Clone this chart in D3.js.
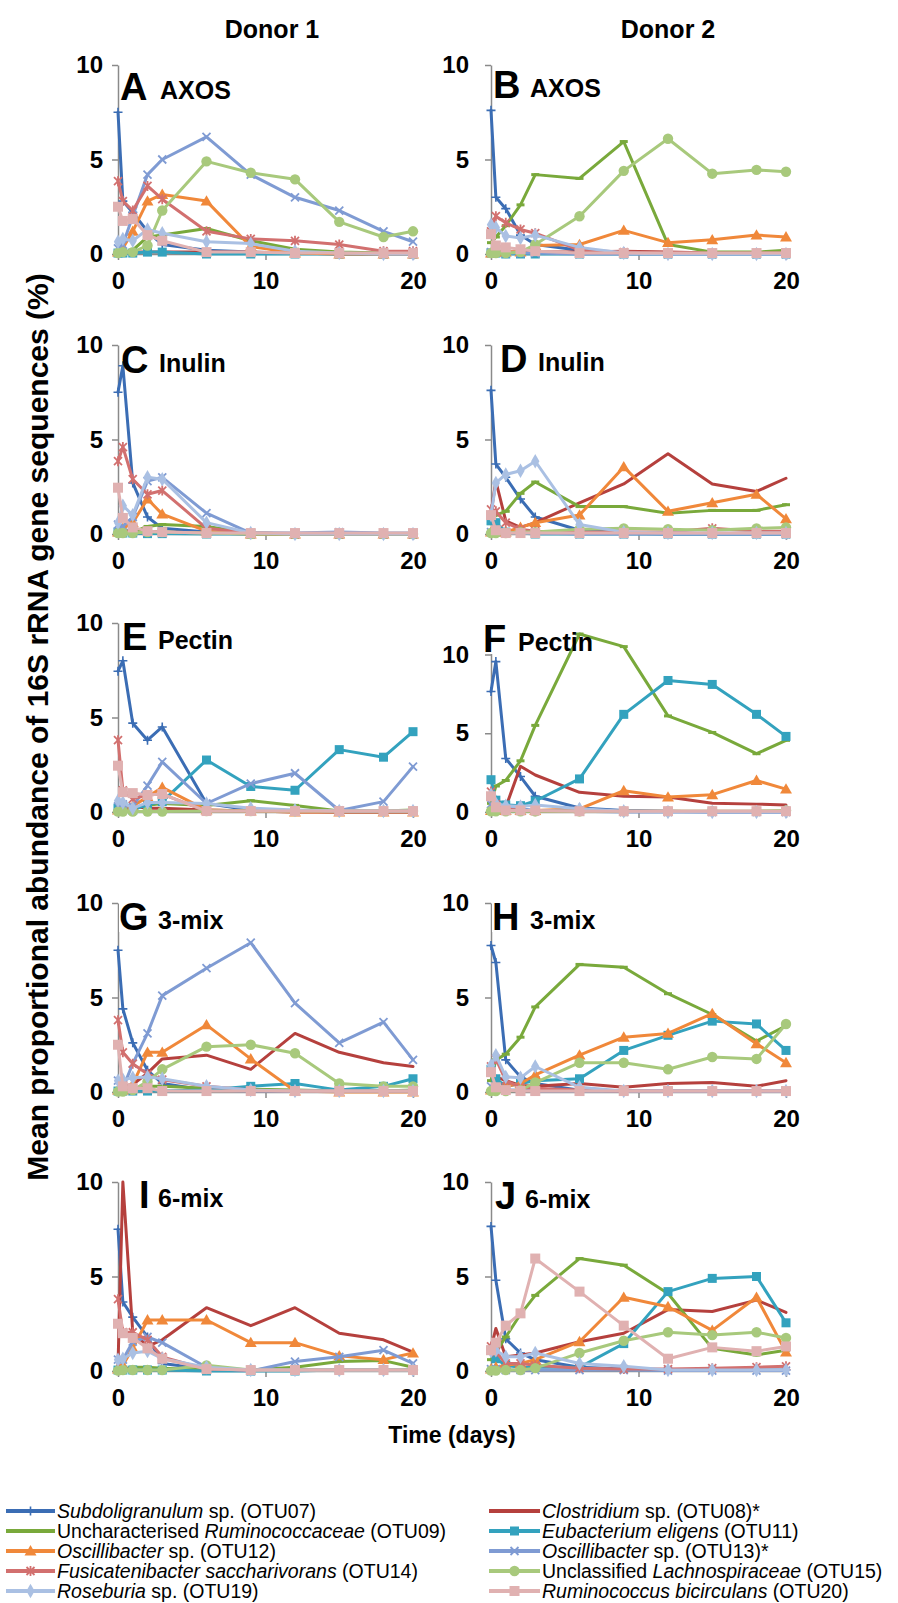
<!DOCTYPE html>
<html><head><meta charset="utf-8">
<script src="https://cdn.jsdelivr.net/npm/d3@7"></script>
<style>
body{margin:0;background:#fff}
svg{display:block;font-family:Arial,"Liberation Sans",sans-serif}
</style>
</head><body>
<svg id="chart" width="898" height="1603"></svg>
<script>
// ---------------- DATA ----------------
const days = [0, 0.33, 1, 2, 3, 6, 9, 12, 15, 18, 20];
const otuIds = ["OTU07","OTU08","OTU09","OTU11","OTU12","OTU13","OTU14","OTU15","OTU19","OTU20"];
const otuColors = ["#3b6db4","#b5403d","#79a93b","#33a2be","#f0883a","#7f9bd3","#d2706f","#a8c97c","#aac0e3","#e0b1b1"];
const otuMarkers = ["plus","none","dash","square","triangle","cross","asterisk","circle","diamond","bigsquare"];

const panelLetters = ["A","B","C","D","E","F","G","H","I","J"];
const panelTitles = ["AXOS","AXOS","Inulin","Inulin","Pectin","Pectin","3-mix","3-mix","6-mix","6-mix"];
const panelYMax = [10,10,10,10,10,12,10,10,10,10];
const yTickValues = [0,5,10];
const xTickValues = [0,10,20];
const donorTitles = ["Donor 1","Donor 2"];
const xAxisTitle = "Time (days)";
const yAxisTitle = "Mean proportional abundance of 16S rRNA gene sequences (%)";

// each panel: rows in otuIds order
const panelA = [
  [7.5, 2.8, 2.2, 1.2, 0.5, 0.2, 0.1, 0.05, 0, 0, 0],
  [0.1, 0.1, 0.1, 0.1, 0.1, 0.1, 0.1, 0.05, 0.05, 0.02, 0.02],
  [0, 0.05, 0.2, 0.9, 1.0, 1.35, 0.7, 0.25, 0.1, 0.05, 0.05],
  [0.05, 0.05, 0.05, 0.1, 0.1, 0, 0, 0, 0, 0, 0],
  [0.1, 0.3, 1.2, 2.8, 3.15, 2.8, 0.4, 0.05, 0, 0, 0],
  [0.3, 0.5, 2.0, 4.2, 5.0, 6.2, 4.2, 3.0, 2.3, 1.2, 0.65],
  [3.85, 2.8, 2.3, 3.6, 2.9, 1.2, 0.8, 0.7, 0.5, 0.15, 0.15],
  [0.05, 0.1, 0.1, 0.45, 2.3, 4.9, 4.3, 3.95, 1.7, 0.9, 1.2],
  [0.65, 0.8, 0.7, 1.3, 1.1, 0.65, 0.55, 0.15, 0.05, 0, 0],
  [2.5, 1.75, 1.85, 1.0, 0.7, 0.1, 0.1, 0.05, 0.05, 0.05, 0.05]
];
const panelB = [
  [7.6, 3.0, 2.4, 1.0, 0.5, 0.2, 0.05, 0, 0, 0, 0],
  [0.1, 0.1, 0.1, 0.1, 0.1, 0.1, 0.15, 0.1, 0.05, 0.05, 0.05],
  [0.6, 0.9, 1.5, 2.6, 4.2, 4.0, 5.95, 0.5, 0.1, 0.1, 0.2],
  [0.05, 0.05, 0, 0, 0, 0, 0, 0, 0, 0, 0],
  [0.05, 0.1, 0.1, 0.1, 0.45, 0.5, 1.25, 0.6, 0.75, 1.0, 0.9],
  [0.1, 0.1, 0.05, 0.05, 0.05, 0, 0, 0, 0, 0, 0],
  [1.2, 2.0, 1.65, 1.3, 1.1, 0.2, 0.1, 0.05, 0.05, 0.05, 0.05],
  [0.05, 0.05, 0.05, 0.1, 0.5, 2.0, 4.4, 6.1, 4.25, 4.45, 4.35],
  [1.55, 1.4, 0.95, 0.85, 1.0, 0.35, 0.05, 0, 0, 0, 0],
  [1.05, 0.45, 0.35, 0.25, 0.15, 0.05, 0.05, 0.05, 0.05, 0.05, 0.05]
];
const panelC = [
  [7.5, 8.9, 2.7, 0.9, 0.3, 0.1, 0.05, 0.02, 0.05, 0.02, 0],
  [0.1, 0.2, 0.15, 0.15, 0.1, 0.05, 0, 0, 0, 0, 0],
  [0, 0.05, 0.1, 0.4, 0.5, 0.4, 0.05, 0, 0, 0, 0],
  [0.1, 0.05, 0.05, 0.02, 0.02, 0, 0, 0, 0, 0, 0],
  [0.1, 0.3, 0.6, 1.85, 1.05, 0.15, 0, 0, 0, 0, 0],
  [0.5, 0.4, 0.9, 2.8, 3.0, 1.1, 0.05, 0.05, 0.1, 0.05, 0.05],
  [3.85, 4.6, 2.9, 2.1, 2.3, 0.3, 0.05, 0, 0, 0, 0],
  [0.05, 0.05, 0.05, 0.1, 0.1, 0.05, 0, 0, 0, 0, 0],
  [0.6, 1.5, 1.0, 3.0, 2.9, 0.6, 0.05, 0, 0, 0, 0],
  [2.45, 0.85, 0.35, 0.15, 0.1, 0.05, 0.05, 0.05, 0.05, 0.05, 0.05]
];
const panelD = [
  [7.6, 3.7, 3.0, 1.85, 0.9, 0.2, 0.05, 0, 0, 0, 0],
  [1.1, 2.8, 0.7, 0.35, 0.6, 1.65, 2.65, 4.25, 2.65, 2.25, 2.95],
  [0.55, 1.0, 1.2, 2.15, 2.75, 1.45, 1.45, 1.1, 1.25, 1.25, 1.55],
  [0.7, 0.6, 0.1, 0.05, 0, 0, 0, 0, 0, 0, 0],
  [0.1, 0.1, 0.1, 0.35, 0.6, 1.0, 3.55, 1.2, 1.65, 2.1, 0.8],
  [0.1, 0.1, 0.05, 0.05, 0.05, 0, 0, 0, 0, 0, 0],
  [1.3, 1.2, 0.6, 0.25, 0.15, 0.1, 0.1, 0.1, 0.3, 0.15, 0.15],
  [0.05, 0.05, 0.05, 0.1, 0.1, 0.25, 0.3, 0.25, 0.2, 0.3, 0.35],
  [1.0, 2.7, 3.15, 3.35, 3.85, 0.5, 0.1, 0.05, 0.05, 0.05, 0.05],
  [1.0, 0.2, 0.05, 0.05, 0.05, 0.05, 0.05, 0.05, 0.05, 0.05, 0.05]
];
const panelE = [
  [7.45, 8.0, 4.7, 3.8, 4.5, 0.45, 0.1, 0.05, 0, 0, 0],
  [0.1, 0.3, 0.3, 0.2, 0.2, 0.1, 0.05, 0, 0, 0, 0],
  [0.05, 0.1, 0.2, 0.35, 0.45, 0.35, 0.6, 0.35, 0.05, 0.05, 0.1],
  [0.2, 0.3, 0.1, 0.4, 0.55, 2.75, 1.35, 1.15, 3.3, 2.9, 4.25],
  [0.1, 0.3, 0.3, 0.8, 1.3, 0.1, 0.05, 0, 0, 0, 0],
  [0.3, 0.4, 0.3, 1.4, 2.65, 0.45, 1.5, 2.05, 0.08, 0.55, 2.4],
  [3.8, 1.15, 0.7, 0.9, 0.95, 0.05, 0.05, 0.05, 0.05, 0.05, 0.05],
  [0.02, 0.02, 0.02, 0.02, 0.02, 0.05, 0.05, 0.05, 0.05, 0.05, 0.05],
  [0.6, 0.5, 0.2, 0.5, 0.5, 0.45, 0.2, 0.1, 0.05, 0.05, 0.05],
  [2.45, 1.05, 1.0, 0.9, 0.95, 0.05, 0.05, 0.05, 0.05, 0.05, 0.05]
];
const panelF = [
  [7.65, 9.55, 3.4, 2.25, 1.0, 0.25, 0.1, 0.05, 0, 0, 0],
  [0.5, 0.3, 0.3, 2.9, 2.35, 1.25, 1.0, 0.95, 0.55, 0.5, 0.45],
  [0.55, 1.65, 2.0, 3.25, 5.5, 11.3, 10.5, 6.1, 5.05, 3.7, 4.55],
  [2.05, 0.75, 0.45, 0.4, 0.7, 2.1, 6.2, 8.35, 8.1, 6.2, 4.8],
  [0.1, 0.1, 0.1, 0.1, 0.1, 0.2, 1.35, 0.95, 1.1, 2.0, 1.45],
  [0.5, 0.3, 0.2, 0.2, 0.1, 0.05, 0, 0, 0, 0, 0],
  [1.3, 0.5, 0.2, 0.1, 0.05, 0.05, 0.05, 0.05, 0.05, 0.05, 0.05],
  [0.05, 0.05, 0.05, 0.05, 0.05, 0.05, 0.05, 0.05, 0.05, 0.05, 0.1],
  [1.1, 0.55, 0.4, 0.35, 0.45, 0.2, 0.05, 0, 0, 0, 0],
  [1.0, 0.3, 0.1, 0.1, 0.1, 0.05, 0.05, 0.05, 0.05, 0.05, 0.05]
];
const panelG = [
  [7.5, 4.4, 2.6, 1.15, 0.45, 0.1, 0.05, 0.05, 0.05, 0.05, 0.05],
  [0.1, 0.3, 0.4, 1.0, 1.75, 1.95, 1.2, 3.1, 2.1, 1.55, 1.35],
  [0.05, 0.1, 0.2, 0.3, 0.3, 0.2, 0.15, 0.1, 0.05, 0.05, 0.1],
  [0.05, 0.05, 0.05, 0.05, 0.05, 0.1, 0.3, 0.45, 0.1, 0.3, 0.7],
  [0.1, 0.1, 0.4, 2.1, 2.1, 3.55, 1.75, 0.05, 0, 0, 0],
  [0.6, 0.2, 1.5, 3.1, 5.1, 6.55, 7.9, 4.7, 2.6, 3.7, 1.7],
  [3.8, 2.1, 1.5, 0.95, 0.65, 0.3, 0.1, 0.05, 0.05, 0.05, 0.05],
  [0.02, 0.02, 0.1, 0.55, 1.2, 2.4, 2.5, 2.05, 0.45, 0.3, 0.3],
  [0.6, 0.65, 0.75, 0.8, 0.7, 0.3, 0.1, 0.05, 0.05, 0.05, 0.05],
  [2.5, 0.3, 0.2, 0.2, 0.05, 0.05, 0.05, 0.05, 0.05, 0.05, 0.05]
];
const panelH = [
  [7.75, 6.85, 1.7, 0.8, 0.45, 0.1, 0.05, 0.05, 0.05, 0.05, 0.05],
  [1.2, 0.8, 0.6, 0.35, 0.3, 0.45, 0.25, 0.45, 0.5, 0.3, 0.6],
  [0.6, 1.7, 2.0, 2.9, 4.5, 6.75, 6.6, 5.2, 4.1, 2.7, 3.5],
  [1.2, 0.7, 0.3, 0.45, 0.6, 0.7, 2.2, 3.0, 3.75, 3.6, 2.2],
  [0.1, 0.2, 0.3, 0.45, 0.9, 1.95, 2.9, 3.1, 4.15, 2.55, 1.55],
  [0.3, 0.2, 0.1, 0.1, 0.05, 0.05, 0.05, 0.05, 0.05, 0.05, 0.05],
  [1.35, 1.75, 0.6, 0.25, 0.2, 0.1, 0.05, 0.05, 0.05, 0.05, 0.05],
  [0.05, 0.05, 0.05, 0.1, 0.5, 1.55, 1.55, 1.2, 1.85, 1.75, 3.6],
  [1.4, 1.95, 0.8, 0.75, 1.35, 0.25, 0.05, 0.05, 0.05, 0.05, 0.05],
  [1.05, 0.25, 0.1, 0.05, 0.05, 0.05, 0.05, 0.05, 0.05, 0.05, 0.05]
];
const panelI = [
  [7.5, 3.65, 2.85, 1.8, 0.4, 0.1, 0.05, 0.05, 0.05, 0.05, 0.05],
  [0.3, 10, 2.05, 1.3, 1.65, 3.35, 2.4, 3.35, 2.0, 1.65, 1.0],
  [0.05, 0.1, 0.2, 0.2, 0.15, 0.1, 0.05, 0.2, 0.5, 0.55, 0.2],
  [0.05, 0.05, 0.05, 0.05, 0.05, 0, 0, 0, 0.05, 0.05, 0.05],
  [0.1, 0.3, 1.2, 2.7, 2.7, 2.7, 1.5, 1.5, 0.8, 0.6, 0.95],
  [0.6, 0.6, 1.55, 1.8, 1.5, 0.2, 0, 0.5, 0.75, 1.1, 0.4],
  [3.8, 2.05, 2.05, 1.65, 0.75, 0.1, 0.05, 0.05, 0.05, 0.05, 0.05],
  [0.02, 0.05, 0.05, 0.05, 0.05, 0.3, 0.05, 0.05, 0.05, 0.05, 0.05],
  [0.6, 0.65, 0.95, 1.05, 0.65, 0.2, 0.05, 0.05, 0.05, 0.05, 0.05],
  [2.5, 2.0, 1.75, 1.2, 0.65, 0.1, 0.05, 0.05, 0.05, 0.05, 0.05]
];
const panelJ = [
  [7.65, 4.8, 1.7, 0.95, 0.6, 0.2, 0.1, 0.05, 0.05, 0.05, 0.05],
  [1.2, 2.25, 0.75, 0.85, 0.95, 1.55, 2.0, 3.25, 3.15, 3.75, 3.1],
  [0.6, 1.0, 1.8, 3.0, 4.0, 5.95, 5.6, 4.1, 1.2, 0.85, 1.1],
  [1.1, 0.65, 0.3, 0.2, 0.2, 0.2, 1.45, 4.2, 4.9, 5.0, 2.55],
  [0.1, 0.2, 0.3, 0.4, 0.6, 1.55, 3.9, 3.4, 2.15, 3.9, 1.0],
  [0.1, 0.1, 0.05, 0.05, 0.05, 0.05, 0.05, 0.02, 0.02, 0.02, 0.02],
  [1.3, 1.0, 0.4, 0.4, 0.3, 0.15, 0.1, 0.1, 0.15, 0.2, 0.25],
  [0.02, 0.02, 0.05, 0.05, 0.15, 0.95, 1.6, 2.05, 1.9, 2.05, 1.75],
  [1.05, 1.1, 0.75, 0.75, 0.95, 0.4, 0.25, 0.05, 0.05, 0.05, 0.05],
  [1.1, 1.5, 2.4, 3.05, 5.95, 4.2, 2.4, 0.65, 1.25, 1.05, 1.3]
];
const panels = [panelA, panelB, panelC, panelD, panelE, panelF, panelG, panelH, panelI, panelJ];

// legend entries: [text part, italic flag]
const legendLeft = [
  [["Subdoligranulum",1],[" sp. (OTU07)",0]],
  [["Uncharacterised ",0],["Ruminococcaceae",1],[" (OTU09)",0]],
  [["Oscillibacter",1],[" sp. (OTU12)",0]],
  [["Fusicatenibacter saccharivorans",1],[" (OTU14)",0]],
  [["Roseburia",1],[" sp. (OTU19)",0]]
];
const legendRight = [
  [["Clostridium",1],[" sp. (OTU08)*",0]],
  [["Eubacterium eligens",1],[" (OTU11)",0]],
  [["Oscillibacter",1],[" sp. (OTU13)*",0]],
  [["Unclassified ",0],["Lachnospiraceae",1],[" (OTU15)",0]],
  [["Ruminococcus bicirculans",1],[" (OTU20)",0]]
];
const legendLeftSeries = [0, 2, 4, 6, 8];
const legendRightSeries = [1, 3, 5, 7, 9];

// ---------------- DRAW ----------------
const svg = d3.select("#chart");
svg.append("rect").attr("width", 898).attr("height", 1603).attr("fill", "#fff");

const colX0 = [118, 491];
const plotW = 295;
const rowTop = [65, 345, 623, 903, 1182];
const plotH = 189;
const axisGray = "#8a8a8a";
// label layout per panel: [letterX offset, baseline offset, subtitle x offset]
const labelLayout = [
  [2, 35, 42], [2, 33, 39],
  [3, 28, 41], [9, 27, 47],
  [4, 27, 40], [-8, 29, 27],
  [1, 27, 40], [1, 27, 39],
  [21, 26, 40], [4, 27, 34]
];

function drawMarker(g, type, color, cx, cy) {
  const t = `translate(${cx},${cy})`;
  switch (type) {
    case "plus":
      g.append("path").attr("transform", t).attr("d", "M-4.5,0H4.5M0,-4.5V4.5")
        .attr("stroke", color).attr("stroke-width", 1.6).attr("fill", "none"); break;
    case "dash":
      g.append("path").attr("transform", t).attr("d", "M-4,0H4")
        .attr("stroke", color).attr("stroke-width", 3).attr("fill", "none"); break;
    case "square":
      g.append("rect").attr("x", cx - 4.5).attr("y", cy - 4.5).attr("width", 9).attr("height", 9).attr("fill", color); break;
    case "bigsquare":
      g.append("rect").attr("x", cx - 5).attr("y", cy - 5).attr("width", 10).attr("height", 10).attr("fill", color); break;
    case "triangle":
      g.append("path").attr("transform", `translate(${cx},${cy+1})`)
        .attr("d", d3.symbol(d3.symbolTriangle, 62)()).attr("fill", color); break;
    case "cross":
      g.append("path").attr("transform", t).attr("d", "M-4,-4L4,4M-4,4L4,-4")
        .attr("stroke", color).attr("stroke-width", 1.8).attr("fill", "none"); break;
    case "asterisk":
      g.append("path").attr("transform", t).attr("d", "M-4,-4L4,4M-4,4L4,-4M0,-5V5")
        .attr("stroke", color).attr("stroke-width", 1.8).attr("fill", "none"); break;
    case "circle":
      g.append("circle").attr("cx", cx).attr("cy", cy).attr("r", 5.2).attr("fill", color); break;
    case "diamond":
      g.append("path").attr("transform", t)
        .attr("d", d3.symbol(d3.symbolDiamond, 60)()).attr("fill", color); break;
    default: break;
  }
}

panels.forEach((series, p) => {
  const col = p % 2, row = Math.floor(p / 2);
  const x0 = colX0[col], top = rowTop[row];
  const x = d3.scaleLinear().domain([0, 20]).range([x0, x0 + plotW]);
  const y = d3.scaleLinear().domain([0, panelYMax[p]]).range([top + plotH, top]);
  const g = svg.append("g");

  // y axis
  const ya = g.append("g").attr("transform", `translate(${x0},0)`)
    .call(d3.axisLeft(y).tickValues(yTickValues).tickFormat(d3.format("d"))
      .tickSize(6).tickSizeOuter(0).tickPadding(col === 0 ? 9 : 16));
  ya.select(".domain").attr("stroke", axisGray).attr("stroke-width", 1.5);
  ya.selectAll(".tick line").attr("stroke", axisGray).attr("stroke-width", 1.5);
  ya.selectAll(".tick text").attr("font-size", 24).attr("font-weight", "bold")
    .attr("fill", "#000").attr("font-family", "Arial, 'Liberation Sans', sans-serif");

  // x axis
  const xa = g.append("g").attr("transform", `translate(0,${top + plotH})`)
    .call(d3.axisBottom(x).tickValues(xTickValues).tickFormat(d3.format("d"))
      .tickSize(6).tickSizeOuter(0).tickPadding(12));
  xa.select(".domain").attr("stroke", axisGray).attr("stroke-width", 1.5);
  xa.selectAll(".tick line").attr("stroke", axisGray).attr("stroke-width", 1.5);
  xa.selectAll(".tick text").attr("font-size", 24).attr("font-weight", "bold")
    .attr("fill", "#000").attr("font-family", "Arial, 'Liberation Sans', sans-serif");

  // series
  const line = d3.line().x((d, i) => x(days[i])).y(d => y(d));
  series.forEach((vals, s) => {
    const sg = g.append("g");
    sg.append("path").attr("d", line(vals)).attr("fill", "none")
      .attr("stroke", otuColors[s]).attr("stroke-width", 3)
      .attr("stroke-linejoin", "round").attr("stroke-linecap", "round");
    vals.forEach((v, i) => drawMarker(sg, otuMarkers[s], otuColors[s], x(days[i]), y(v)));
  });

  // panel label
  const L = labelLayout[p];
  const lt = g.append("text").attr("x", x0 + L[0]).attr("y", top + L[1])
    .attr("font-size", 38).attr("font-weight", "bold").attr("fill", "#000").text(panelLetters[p]);
  if (x0 + L[0] < x0 + 2) {
    const bb = lt.node().getBBox();
    g.insert("rect", () => lt.node()).attr("x", bb.x).attr("y", top - 2)
      .attr("width", bb.width).attr("height", bb.y + bb.height - top - 4).attr("fill", "#fff");
  }
  g.append("text").attr("x", x0 + L[2]).attr("y", top + L[1] - 1)
    .attr("font-size", 25).attr("font-weight", "bold").attr("fill", "#000").text(panelTitles[p]);
});

// Donor titles
[272, 668].forEach((cx, i) => {
  svg.append("text").attr("x", cx).attr("y", 38).attr("text-anchor", "middle")
    .attr("font-size", 25).attr("font-weight", "bold").text(donorTitles[i]);
});

// axis titles
svg.append("text").attr("transform", "translate(37,727) rotate(-90)")
  .attr("text-anchor", "middle").attr("dy", "0.35em")
  .attr("font-size", 30).attr("font-weight", "bold").text(yAxisTitle);
svg.append("text").attr("x", 452).attr("y", 1443).attr("text-anchor", "middle")
  .attr("font-size", 23).attr("font-weight", "bold").text(xAxisTitle);

// legend
const legendRowY = [1511, 1531, 1551, 1571, 1591];
function legendColumn(entries, seriesIdx, lx0, lx1, tx, maxRight) {
  entries.forEach((parts, r) => {
    const s = seriesIdx[r], yy = legendRowY[r];
    const lg = svg.append("g");
    lg.append("line").attr("x1", lx0).attr("x2", lx1).attr("y1", yy).attr("y2", yy)
      .attr("stroke", otuColors[s]).attr("stroke-width", 4);
    drawMarker(lg, otuMarkers[s], otuColors[s], (lx0 + lx1) / 2, yy);
    const t = lg.append("text").attr("x", tx).attr("y", yy).attr("dy", "0.36em")
      .attr("font-size", 19.5).attr("fill", "#000");
    parts.forEach(([txt, it]) => t.append("tspan").attr("font-style", it ? "italic" : "normal").text(txt));
    const w = t.node().getComputedTextLength();
    if (tx + w > maxRight) {
      t.attr("textLength", maxRight - tx).attr("lengthAdjust", "spacingAndGlyphs");
    }
  });
}
legendColumn(legendLeft, legendLeftSeries, 6, 55, 57, 480);
legendColumn(legendRight, legendRightSeries, 489, 540, 542, 884);
</script>
</body></html>
